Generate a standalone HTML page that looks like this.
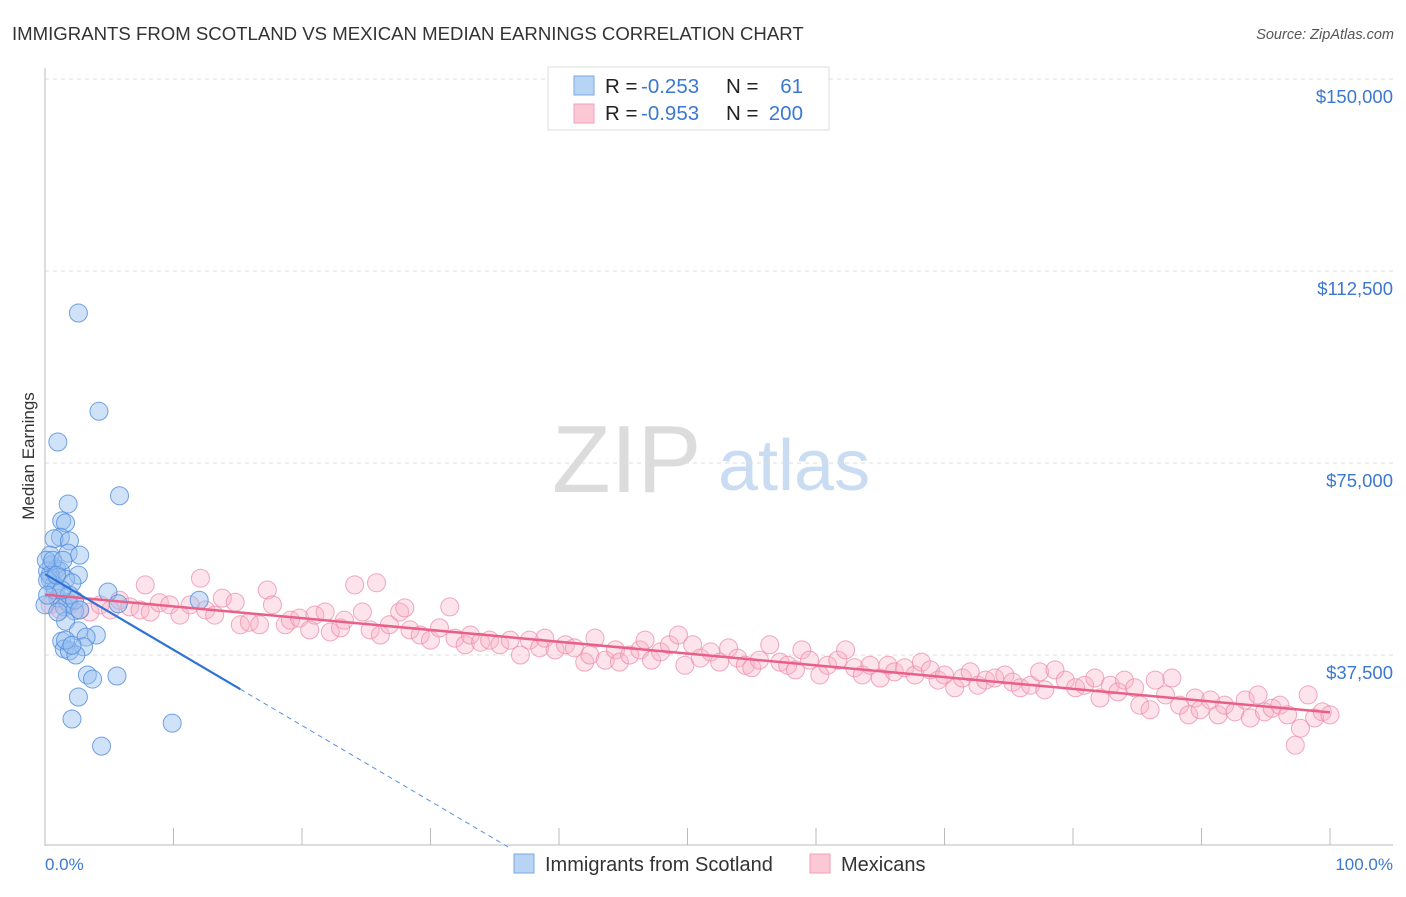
<!DOCTYPE html>
<html><head><meta charset="utf-8"><style>
body{margin:0;background:#fff;font-family:"Liberation Sans",sans-serif}
svg text{font-family:"Liberation Sans",sans-serif}
</style></head><body>
<svg id="c" width="1406" height="892" viewBox="0 0 1406 892">
<text x="12" y="40" font-size="18.6" fill="#333">IMMIGRANTS FROM SCOTLAND VS MEXICAN MEDIAN EARNINGS CORRELATION CHART</text>
<text x="1394" y="39" font-size="14.5" fill="#555" font-style="italic" text-anchor="end">Source: ZipAtlas.com</text>
<g>
<text x="552" y="492" font-size="96" fill="#dcdcdc" font-family="Liberation Serif,serif">ZIP</text>
<text x="718" y="490" font-size="72" fill="#c9dcf2">atlas</text>
</g>
<g id="grid"></g><g id="axes"></g><g id="pts"></g><g id="lines"></g>
<text x="34" y="456" font-size="17" fill="#333" text-anchor="middle" transform="rotate(-90 34 456)">Median Earnings</text>
<text x="45" y="870" font-size="17" fill="#3b78d0">0.0%</text>
<text x="1393" y="870" font-size="17" fill="#3b78d0" text-anchor="end">100.0%</text>
<g>
<rect x="548" y="67" width="281" height="63" fill="#fff" stroke="#ddd"/>
<rect x="574" y="76" width="20" height="19" fill="#b8d4f5" stroke="#7aa8e4"/>
<rect x="574" y="104" width="20" height="19" fill="#fcc8d6" stroke="#f0a0b8"/>
<text y="93" font-size="20.5" fill="#222"><tspan x="605">R = </tspan><tspan x="641" fill="#3b78d0">-0.253</tspan><tspan x="726">N = </tspan><tspan x="803" text-anchor="end" fill="#3b78d0">61</tspan></text>
<text y="120" font-size="20.5" fill="#222"><tspan x="605">R = </tspan><tspan x="641" fill="#3b78d0">-0.953</tspan><tspan x="726">N = </tspan><tspan x="803" text-anchor="end" fill="#3b78d0">200</tspan></text>
</g>
<g>
<rect x="514" y="854" width="20" height="19" fill="#b8d4f5" stroke="#7aa8e4"/>
<text x="545" y="871" font-size="20" fill="#333">Immigrants from Scotland</text>
<rect x="810" y="854" width="20" height="19" fill="#fcc8d6" stroke="#f0a0b8"/>
<text x="841" y="871" font-size="20" fill="#333">Mexicans</text>
</g>
</svg>
<script>
const yTicks=[37500,75000,112500,150000];
const yTickLabels=["$37,500","$75,000","$112,500","$150,000"];
const xTicks=[0,10,20,30,40,50,60,70,80,90,100];
const scotX=[2.6,4.2,1.0,5.8,1.8,1.3,1.6,1.2,0.7,1.9,0.4,1.8,2.7,0.5,0.9,0.2,1.2,2.6,0.4,1.6,2.1,0.7,4.9,12.0,1.0,1.8,5.7,1.5,2.3,1.6,2.6,4.0,3.2,1.3,1.5,1.9,3.0,2.4,3.3,3.7,5.6,2.6,2.1,9.9,4.4,0.1,0.4,0.8,0.2,0.6,1.9,2.3,1.3,0.0,1.0,2.7,1.6,2.1,0.2,0.9,1.4];
const scotY=[104300,85100,79100,68600,67000,63700,63300,60500,60200,59800,57000,57400,57000,55100,54300,53900,53900,53100,52300,52300,51600,51200,49800,48200,48600,47800,47500,46900,46100,44100,42200,41400,41000,40200,38700,38300,39100,37500,33600,32800,33400,29300,25000,24200,19700,56000,53100,50200,52100,56000,49200,48200,50200,47300,45900,46300,40400,39400,49200,53100,56000];
const mexX=[0.4,1.2,1.9,2.7,3.5,4.3,5.1,5.8,6.6,7.4,7.8,8.2,8.9,9.7,10.5,11.3,12.1,12.5,13.2,13.8,14.8,15.2,15.9,16.7,17.3,17.7,18.7,19.1,19.8,20.6,21.0,21.8,22.2,23.0,23.3,24.1,24.7,25.3,25.8,26.1,26.8,27.6,28.0,28.4,29.2,30.0,30.7,31.5,31.9,32.7,33.1,33.9,34.6,35.4,36.2,37.0,37.7,38.5,38.9,39.7,40.5,41.2,42.0,42.4,42.8,43.6,44.4,44.7,45.5,46.3,46.7,47.2,47.9,48.6,49.3,49.8,50.4,51.0,51.8,52.5,53.2,53.9,54.5,55.0,55.6,56.4,57.2,57.8,58.4,58.9,59.5,60.3,60.9,61.7,62.3,63.0,63.6,64.2,65.0,65.6,66.1,66.9,67.7,68.2,68.9,69.5,70.0,70.8,71.4,72.0,72.6,73.2,73.9,74.7,75.3,75.9,76.7,77.4,77.8,78.6,79.4,80.2,80.9,81.7,82.1,82.9,83.5,84.0,84.8,85.2,86.0,86.4,87.2,87.7,88.3,89.0,89.5,89.9,90.7,91.3,91.8,92.6,93.4,93.8,94.4,94.9,95.5,96.1,96.7,97.3,97.7,98.3,98.8,99.4,100];
const mexY=[47300,46300,47300,46300,45900,47300,46300,48200,46900,46300,51200,45900,47700,47300,45300,47300,52500,46300,45300,48600,47800,43400,43900,43400,50200,47300,43400,44300,44700,42400,45300,45900,42000,42800,44300,51200,45900,42400,51600,41400,43400,45900,46700,42400,41400,40400,42800,46900,40800,39500,41400,40000,40400,39500,40400,37500,40400,38900,40800,38500,39500,38900,36100,37500,40800,36500,38500,36100,37500,38500,40400,36500,38100,39500,41400,35500,39500,36900,38100,36100,38900,36900,35500,35000,36500,39500,36100,35500,34600,38500,36500,33600,35500,36500,38500,35000,33600,35500,33000,35500,34200,35000,33600,36100,34600,32600,33600,31100,33000,34200,31600,32600,33000,33600,32200,31100,31600,34200,30700,34600,32600,31100,31600,33000,29100,31600,30300,32600,31100,27700,26800,32600,29700,33000,27700,25800,29100,26800,28700,25800,27700,26400,28700,25200,29700,26400,27100,27700,25800,19900,23200,29700,25200,26400,25800];
const NS="http://www.w3.org/2000/svg";
const X0=45,X1=1330,Y0=847,PXV=192/37500;
function sx(p){return X0+(X1-X0)*p/100;}
function sy(v){return Y0-v*PXV;}
function mk(tag,attrs,parent){const e=document.createElementNS(NS,tag);for(const k in attrs)e.setAttribute(k,attrs[k]);parent.appendChild(e);return e;}
const grid=document.getElementById('grid'),axes=document.getElementById('axes'),pts=document.getElementById('pts'),lines=document.getElementById('lines');
yTicks.forEach((v,i)=>{
 const l=mk('line',{x1:45,x2:1393,y1:sy(v),y2:sy(v),stroke:'#ddd','stroke-dasharray':'4,4'},grid);
 
 
 const t=mk('text',{x:1393,y:sy(v)+24,'font-size':18.5,fill:'#3b78d0','text-anchor':'end'},grid);
 t.textContent=yTickLabels[i];
 
 
});
const ya=mk('line',{x1:45,x2:45,y1:68,y2:846,stroke:'#bbb'},axes);


const xa=mk('line',{x1:45,x2:1393,y1:845,y2:845,stroke:'#bbb'},axes);


xTicks.forEach(p=>{
 const t=mk('line',{x1:sx(p),x2:sx(p),y1:828,y2:845,stroke:'#bbb'},axes);
 
 
});
mexX.forEach((p,i)=>{
 const c=mk('circle',{cx:sx(p),cy:sy(mexY[i]),r:9,fill:'rgba(248,175,198,0.35)',stroke:'rgba(236,140,170,0.75)','stroke-width':1},pts);
 
 
});
scotX.forEach((p,i)=>{
 const c=mk('circle',{cx:sx(p),cy:sy(scotY[i]),r:9,fill:'rgba(150,190,240,0.45)',stroke:'rgba(80,140,220,0.8)','stroke-width':1},pts);
 
 
});
function fit(xs,ys){const n=xs.length;let mx=0,my=0;xs.forEach((x,i)=>{mx+=x;my+=ys[i]});mx/=n;my/=n;let sxy=0,sxx=0;xs.forEach((x,i)=>{sxy+=(x-mx)*(ys[i]-my);sxx+=(x-mx)*(x-mx)});const b=sxy/sxx;return [my-b*mx,b];}
const [ma,mb]=fit(mexX,mexY);
const ml=mk('line',{x1:sx(0),y1:sy(ma),x2:sx(100),y2:sy(ma+mb*100),stroke:'#e8608a','stroke-width':2.5},lines);


const [sa,sb]=fit(scotX,scotY);
const solidEnd=15.2;
const s1=mk('line',{x1:sx(0),y1:sy(sa),x2:sx(solidEnd),y2:sy(sa+sb*solidEnd),stroke:'#2f72d6','stroke-width':2.2},lines);


const zeroX=-sa/sb;
const s2=mk('line',{x1:sx(solidEnd),y1:sy(sa+sb*solidEnd),x2:sx(zeroX),y2:sy(0),stroke:'#5a90dc','stroke-width':1,'stroke-dasharray':'5,4'},lines);


</script>
</body></html>
